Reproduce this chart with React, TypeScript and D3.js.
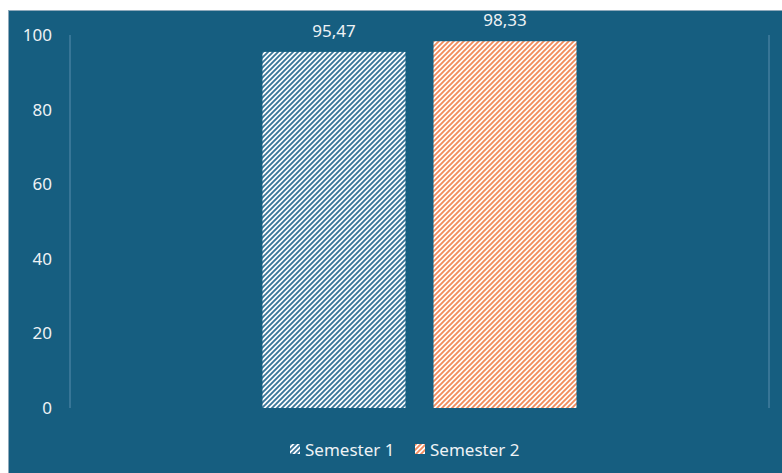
import React from "react";
import * as d3 from "d3";

const categories = ["Rata-rata"];
const seriesNames = ["Semester 1", "Semester 2"];
const seriesValues = [95.47, 98.33];
const valueLabels = ["95,47", "98,33"];
const yTicks = [0, 20, 40, 60, 80, 100];

const W = 782;
const H = 473;
const bg = "#165e80";
const textColor = "#eef2f5";
const stripeColors = ["#3a7699", "#f28c5e"];

export default function App() {
  const plotLeft = 70;
  const plotRight = 769;
  const plotTop = 35;
  const plotBottom = 408;

  const y = d3.scaleLinear().domain([0, 100]).range([plotBottom, plotTop]);
  const x0 = d3.scaleBand().domain(categories).range([plotLeft, plotRight]).paddingInner(0).paddingOuter(0.613);
  const x1 = d3.scaleBand().domain(seriesNames).range([0, x0.bandwidth()]).paddingInner(0.164);

  const font = "'Noto Sans', 'Liberation Sans', sans-serif";

  return (
    <svg width={W} height={H} style={{ position: "absolute", left: 0, top: 0 }} fontFamily={font}>
      <defs>
        {stripeColors.map((c, i) => (
          <pattern key={i} id={`stripe${i}`} patternUnits="userSpaceOnUse" width={5} height={5}>
            <rect width={5} height={5} fill="#ffffff" />
            <path d="M-1,1 l2,-2 M0,5 l5,-5 M4,6 l2,-2" stroke={c} strokeWidth={1.9} />
          </pattern>
        ))}
      </defs>
      <rect x={8} y={10} width={W - 8} height={H - 10} fill={bg} />
      <line x1={8} x2={W} y1={10.5} y2={10.5} stroke="#8fa9bb" strokeWidth={1} />
      <line x1={8.5} x2={8.5} y1={10} y2={H} stroke="#8fa9bb" strokeWidth={1} />
      {[plotLeft, plotRight].map((xx, i) => (
        <line key={i} x1={xx} x2={xx} y1={plotTop} y2={plotBottom} stroke="#4f86a6" strokeWidth={1.2} />
      ))}
      {yTicks.map((t) => (
        <text key={t} x={52} y={y(t)} dy="0.35em" textAnchor="end" fill={textColor} fontSize={17}>
          {t}
        </text>
      ))}
      {categories.map((cat) =>
        seriesNames.map((s, i) => {
          const bx = (x0(cat) as number) + (x1(s) as number);
          const bw = x1.bandwidth();
          const v = seriesValues[i];
          return (
            <g key={s}>
              <rect x={bx} y={y(v)} width={bw} height={y(0) - y(v)} fill={`url(#stripe${i})`} />
              <text x={bx + bw / 2} y={y(v) - 15} textAnchor="middle" fill={textColor} fontSize={17}>
                {valueLabels[i]}
              </text>
            </g>
          );
        })
      )}
      {seriesNames.map((s, i) => {
        const lx = [290, 415][i];
        return (
          <g key={s}>
            <rect x={lx} y={444} width={10} height={10} fill={`url(#stripe${i})`} />
            <text x={lx + 15} y={456} fill={textColor} fontSize={17}>
              {s}
            </text>
          </g>
        );
      })}
    </svg>
  );
}
